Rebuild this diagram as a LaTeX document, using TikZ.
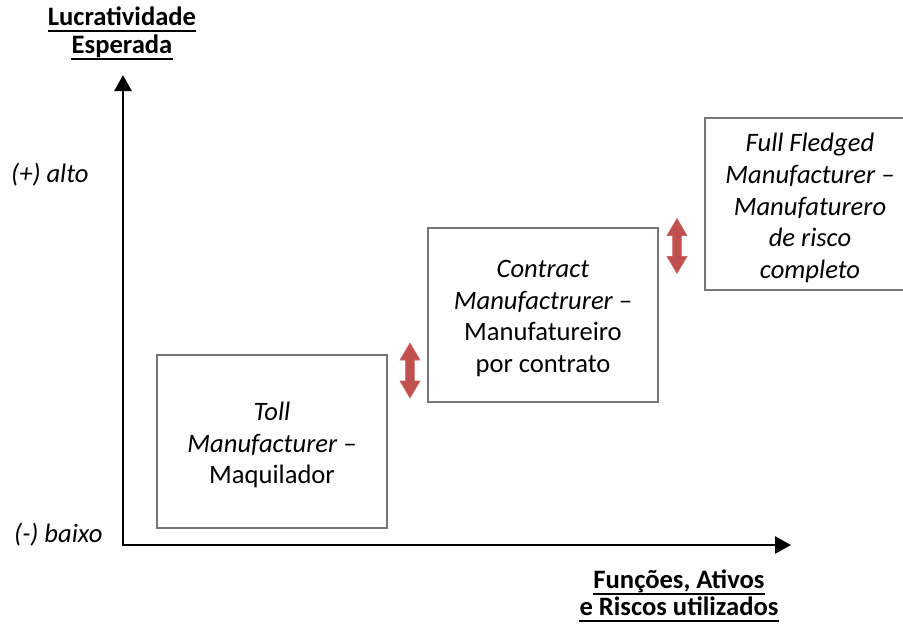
\documentclass[tikz,border=0pt]{standalone}
\usepackage{fontspec}
\setmainfont{Carlito}
\usetikzlibrary{arrows.meta}

\definecolor{boxgray}{RGB}{118,118,118}
\definecolor{arrowred}{RGB}{192,80,77}

\tikzset{
  axis/.style={line width=2.7pt, -{Triangle[length=16pt,width=17pt]}},
  stage/.style={draw=boxgray, line width=2.4pt, fill=white, inner sep=0pt},
  stagetext/.style={align=center, inner sep=0pt, font=\fontsize{26.6}{31.7}\selectfont},
  axislabel/.style={inner sep=0pt, font=\fontsize{26.6}{31}\selectfont\itshape},
  axistitle/.style={anchor=base, inner sep=0pt, font=\fontsize{26.6}{28}\selectfont\bfseries},
  underl/.style={line width=2pt},
  updown/.pic={
    \filldraw[fill=arrowred, draw=arrowred!85!white, line width=0.6pt]
      (0,-27.5) -- (10,-10.5) -- (4.3,-10.5) -- (4.3,10.5) -- (10,10.5) -- (0,27.5)
      -- (-10,10.5) -- (-4.3,10.5) -- (-4.3,-10.5) -- (-10,-10.5) -- cycle;
  },
}

\begin{document}
\begin{tikzpicture}[x=1pt,y=-1pt]
  \useasboundingbox (0,0) rectangle (903,627);

  % axes
  \coordinate (ybot) at (123,546.3);
  \coordinate (ytop) at (123,75);
  \coordinate (xleft) at (121.7,545);
  \coordinate (xright) at (791,545);
  \draw[axis] (ybot) -- (ytop);
  \draw[axis] (xleft) -- (xright);

  % axis titles, underlined
  \node[axistitle] (yt1) at (122,25.5) {Lucratividade};
  \node[axistitle] (yt2) at (122,53.5) {Esperada};
  \node[axistitle] (xt1) at (679,588.5) {Funções, Ativos};
  \node[axistitle] (xt2) at (679,615) {e Riscos utilizados};
  \foreach \t in {yt1,yt2,xt1,xt2}
    \draw[underl] ([yshift=-5.5pt]\t.base west) -- ([yshift=-5.5pt]\t.base east);

  % scale labels
  \node[axislabel, anchor=base west] (high) at (11,182) {(+) alto};
  \node[axislabel, anchor=base west] (low) at (14,542) {(-) baixo};

  % stage boxes
  \node[stage, minimum width=230pt, minimum height=173pt] (toll) at (272,441.5) {};
  \node[stage, minimum width=230pt, minimum height=174pt] (contract) at (543,315) {};
  \node[stage, minimum width=210pt, minimum height=172pt] (full) at (810,204) {};

  % stage captions
  \node[stagetext] (tolltext) at ([yshift=-3.5pt]toll.center)
    {\itshape Toll\\ \itshape Manufacturer –\\ Maquilador};
  \node[stagetext] (contracttext) at ([yshift=-3.5pt]contract.center)
    {\itshape Contract\\ \itshape Manufactrurer –\\ Manufatureiro\\ por contrato};
  \node[stagetext] (fulltext) at ([yshift=-4pt]full.center)
    {\itshape Full Fledged\\ \itshape Manufacturer –\\ \itshape Manufaturero\\
     \itshape de risco\\ \itshape completo};

  % steps between stages
  \pic (step1) at (410,370.5) {updown};
  \pic (step2) at (677,246) {updown};
\end{tikzpicture}
\end{document}
